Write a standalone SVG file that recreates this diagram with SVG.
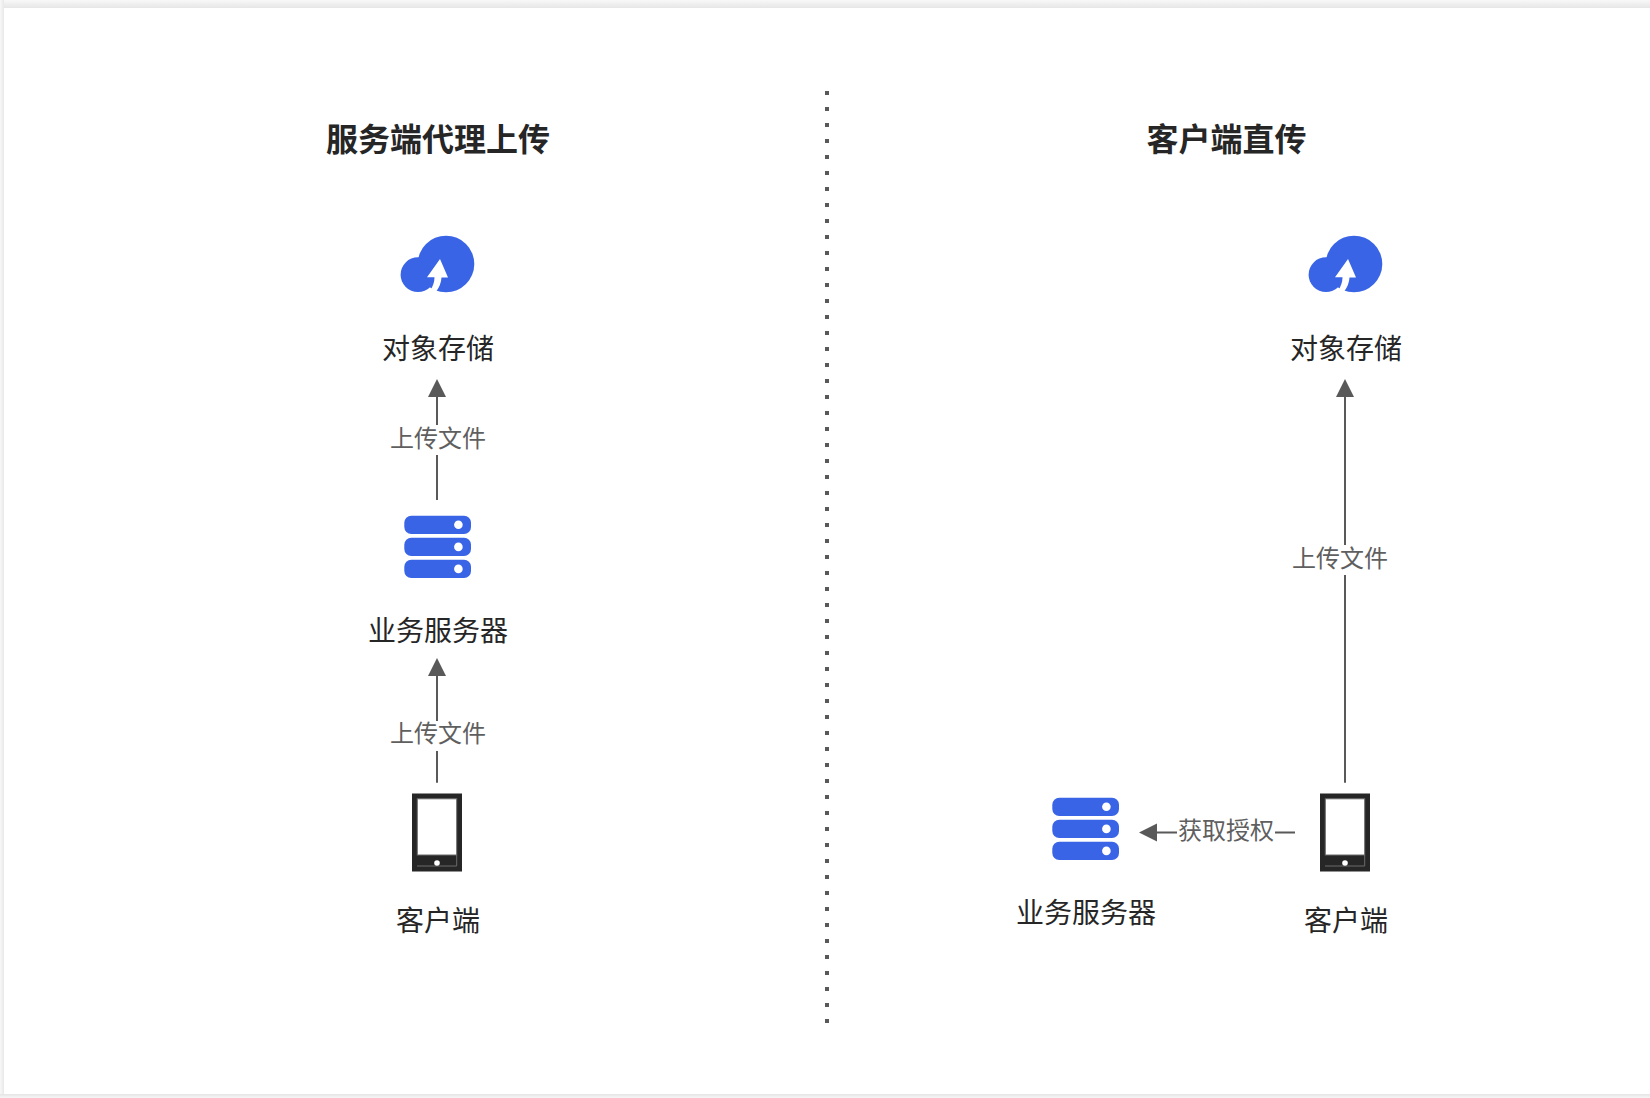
<svg xmlns="http://www.w3.org/2000/svg" width="1650" height="1098" viewBox="0 0 1650 1098">
<style>
text{font-family:"Noto Sans CJK SC","Liberation Sans",sans-serif;text-anchor:middle}
.t{font-size:32px;font-weight:700;fill:#262626}
.n{font-size:28px;fill:#262626}
.l{font-size:24px;fill:#5f5f5f}
.c{stroke:#595959;stroke-width:2;fill:none}
.h{fill:#595959}
.b{fill:#3964e6}
.d{fill:#fff}
</style>
<defs>
<linearGradient id="st" x1="0" y1="0" x2="0" y2="1"><stop offset="0" stop-color="#f8f8f8"/><stop offset="1" stop-color="#e6e6e6"/></linearGradient>
<linearGradient id="sl" x1="0" y1="0" x2="1" y2="0"><stop offset="0" stop-color="#f8f8f8"/><stop offset="1" stop-color="#e8e8e8"/></linearGradient>
<linearGradient id="sb" x1="0" y1="0" x2="0" y2="1"><stop offset="0" stop-color="#e4e4e4"/><stop offset="1" stop-color="#f6f6f6"/></linearGradient>
<g id="cloud">
<circle class="b" cx="446" cy="264" r="28.3"/>
<circle class="b" cx="418" cy="274.7" r="17.4"/>
<path class="d" d="M440 259L448 277.6H441.5Q441 285 436.5 291L430 291Q434.5 284 434.5 277.3H427Z"/>
</g>
<g id="server">
<rect class="b" x="404.3" y="515.7" width="66.7" height="18.3" rx="7"/>
<rect class="b" x="404.3" y="537.8" width="66.7" height="18.3" rx="7"/>
<rect class="b" x="404.3" y="559.8" width="66.7" height="18.3" rx="7"/>
<circle class="d" cx="458.4" cy="524.8" r="4.3"/>
<circle class="d" cx="458.4" cy="546.9" r="4.3"/>
<circle class="d" cx="458.4" cy="568.9" r="4.3"/>
</g>
<g id="phone">
<rect x="412" y="793.5" width="50" height="78" fill="#262626"/>
<rect x="417.3" y="798.8" width="39.4" height="56.2" fill="#fff" stroke="#6b6b6b"/>
<path d="M417 866H456.7V855" fill="none" stroke="#6b6b6b"/>
<circle class="d" cx="437" cy="863" r="2.8"/>
</g>
</defs>
<rect width="1650" height="1098" fill="#fff"/>
<rect width="1650" height="8" fill="url(#st)"/>
<rect width="4" height="1098" fill="url(#sl)"/>
<rect y="1094" width="1650" height="4" fill="url(#sb)"/>
<g id="title-left"><text class="t" x="438" y="151">服务端代理上传</text></g>
<g id="title-right"><text class="t" x="1226.5" y="151">客户端直传</text></g>
<g id="connectors">
<path d="M827 91V1023" stroke="#595959" stroke-width="4" stroke-dasharray="4 12" fill="none"/>
<path class="c" d="M437 395V425M437 455V500"/>
<path class="h" d="M437 379L446 397H428Z"/>
<path class="c" d="M437 675V721M437 751V782.7"/>
<path class="h" d="M437 658L446 676H428Z"/>
<path class="c" d="M1345 395V545M1345 575V782.7"/>
<path class="h" d="M1345 379L1354 397H1336Z"/>
<path class="c" d="M1155 832.5H1177M1275 832.5H1295"/>
<path class="h" d="M1139 832.5L1157 823.5V841.5Z"/>
</g>
<g id="label-upload-1"><text class="l" x="438" y="447">上传文件</text></g>
<g id="label-upload-2"><text class="l" x="438" y="742">上传文件</text></g>
<g id="label-upload-3"><text class="l" x="1340" y="567">上传文件</text></g>
<g id="label-auth"><text class="l" x="1226" y="838.5">获取授权</text></g>
<g id="storage-left"><use href="#cloud"/><text class="n" x="438" y="359">对象存储</text></g>
<g id="server-left"><use href="#server"/><text class="n" x="438" y="641">业务服务器</text></g>
<g id="client-left"><use href="#phone"/><text class="n" x="438" y="931">客户端</text></g>
<g id="storage-right"><use href="#cloud" x="908"/><text class="n" x="1346" y="359">对象存储</text></g>
<g id="server-right"><use href="#server" x="648" y="282"/><text class="n" x="1086" y="923">业务服务器</text></g>
<g id="client-right"><use href="#phone" x="908"/><text class="n" x="1346" y="931">客户端</text></g>
</svg>
